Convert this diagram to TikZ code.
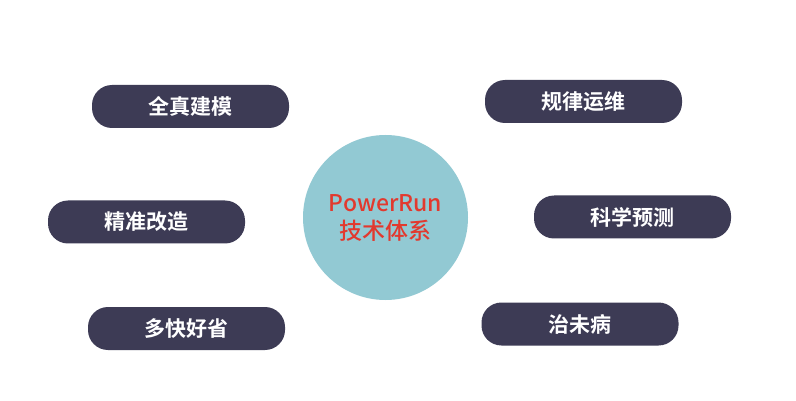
\documentclass[tikz,border=0pt]{standalone}
\usepackage{fontspec}
\newfontfamily\cjkbold{Noto Sans CJK SC Bold}
\newfontfamily\cjkmed{Noto Sans CJK SC Medium}
\definecolor{pillc}{HTML}{3D3B55}
\definecolor{circc}{HTML}{92C9D3}
\definecolor{redc}{HTML}{E2392E}
\begin{document}
\begin{tikzpicture}[x=1pt,y=-1pt,
  pill/.style={fill=pillc, draw=none, rounded corners=20pt, minimum width=197pt, minimum height=43pt, inner sep=0pt, text=white, font=\cjkbold\fontsize{21}{25}\selectfont}]
\useasboundingbox[fill=white] (0,0) rectangle (796,401);
\node[circle, fill=circc, minimum size=165pt, inner sep=0pt] (core) at (385.5,217.5) {};
\node[text=redc, align=center, font=\cjkmed\fontsize{23}{28}\selectfont] (coretxt) at (385.5,218) {PowerRun\\技术体系};
\node[pill] (p1) at (190.5,106.5) {全真建模};
\node[pill] (p2) at (583.5,101.5) {规律运维};
\node[pill] (p3) at (146.5,222) {精准改造};
\node[pill] (p4) at (632.5,217) {科学预测};
\node[pill] (p5) at (186.5,328.5) {多快好省};
\node[pill] (p6) at (580,324) {治未病};
\end{tikzpicture}
\end{document}
